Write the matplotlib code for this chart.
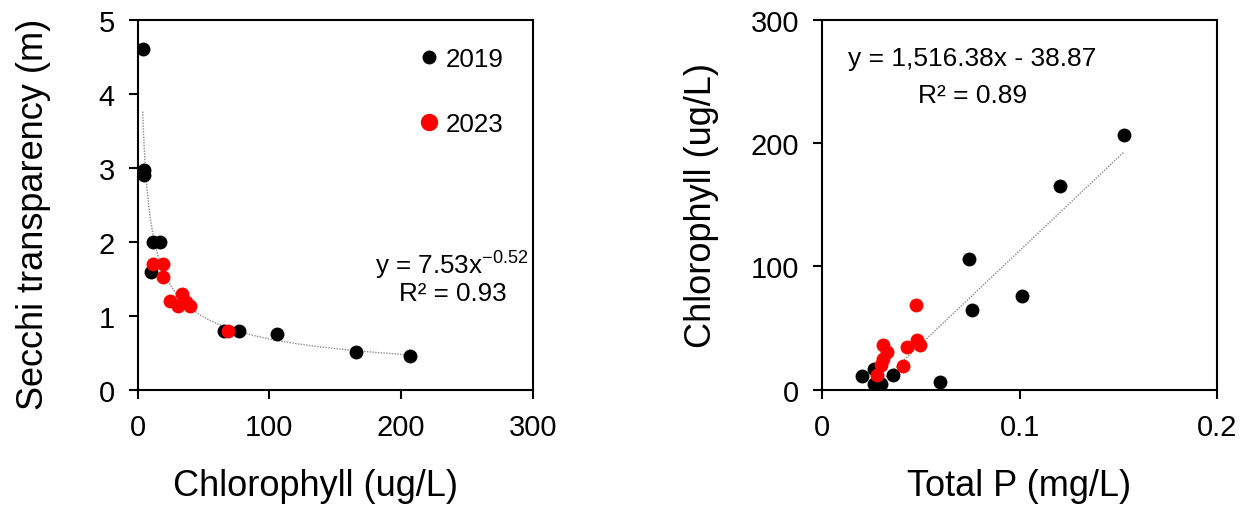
import numpy as np
import matplotlib
matplotlib.use("Agg")
import matplotlib.pyplot as plt
from matplotlib.lines import Line2D

plt.rcParams['font.family'] = ['Liberation Sans', 'DejaVu Sans']
plt.rcParams['mathtext.default'] = 'regular'
plt.rcParams['axes.unicode_minus'] = False

# left panel: chlorophyll (ug/L) vs secchi (m)
chl_2019 = [3.8, 4.5, 5.0, 11.6, 16.9, 10.0, 65.5, 77.0, 105.7, 165.6, 207.0]
secchi_2019 = [4.61, 2.97, 2.90, 2.00, 2.00, 1.59, 0.79, 0.79, 0.75, 0.51, 0.45]
chl_2023 = [11.6, 19.2, 19.2, 24.5, 34.0, 30.6, 36.5, 39.7, 68.5]
secchi_2023 = [1.70, 1.70, 1.52, 1.20, 1.30, 1.13, 1.19, 1.13, 0.79]

# right panel: total P (mg/L) vs chlorophyll (ug/L)
tp_2019 = [0.153, 0.1207, 0.0742, 0.0758, 0.101, 0.0596, 0.0202, 0.0263, 0.0263, 0.030, 0.0359]
chl2_2019 = [207, 165, 106, 65, 76, 6, 11.4, 17, 5, 5, 12]
tp_2023 = [0.0475, 0.0308, 0.0328, 0.0308, 0.0298, 0.0278, 0.0409, 0.0429, 0.048, 0.0495]
chl2_2023 = [69, 36, 31, 25, 20, 12, 19.5, 35, 40.7, 36.6]

# trendline coefficients (as printed on the chart)
pow_a, pow_b = 7.53, -0.52
lin_m, lin_c = 1516.38, -38.87

fig = plt.figure(figsize=(12.47, 5.1), dpi=100)
ax1 = fig.add_axes([0.1104, 0.2339, 0.317, 0.7249])
ax2 = fig.add_axes([0.6592, 0.2339, 0.3168, 0.7249])

ms = 100
trend_style = dict(color='#8c8c8c', lw=1.0, ls=(0, (1, 1)), zorder=1)

# --- left
x_all = np.array(chl_2019 + chl_2023)
xf = np.linspace(x_all.min(), x_all.max(), 300)
ax1.plot(xf, pow_a * xf ** pow_b, **trend_style)
ax1.scatter(chl_2019, secchi_2019, s=ms, color='black', zorder=3, linewidths=0)
ax1.scatter(chl_2023, secchi_2023, s=ms, color='#ff0000', zorder=4, linewidths=0)
ax1.set_xlim(0, 300)
ax1.set_ylim(0, 5)
ax1.set_xticks([0, 100, 200, 300])
ax1.set_yticks([0, 1, 2, 3, 4, 5])
ax1.set_xlabel('Chlorophyll (ug/L)', fontsize=26, labelpad=20, x=0.451)
ax1.set_ylabel('Secchi transparency (m)', fontsize=26, labelpad=34, y=0.478)
ax1.text(0.99, 0.337, 'y = 7.53x$^{-0.52}$', transform=ax1.transAxes,
         ha='right', va='center', fontsize=18.7)
ax1.text(0.797, 0.262, 'R² = 0.93', transform=ax1.transAxes,
         ha='center', va='center', fontsize=18.7)

handles = [Line2D([], [], ls='none', marker='o', color='black', markersize=9),
           Line2D([], [], ls='none', marker='o', color='#ff0000', markersize=11.5)]
ax1.legend(handles, ['2019', '2023'], loc='upper left', bbox_to_anchor=(0.718, 0.928),
           frameon=False, fontsize=18.7, handlelength=0.6, handletextpad=0.35,
           labelspacing=1.6, borderpad=0, borderaxespad=0)

# --- right
x2_all = np.array(tp_2019 + tp_2023)
xf2 = np.linspace(x2_all.min(), x2_all.max(), 50)
ax2.plot(xf2, lin_m * xf2 + lin_c, **trend_style)
ax2.scatter(tp_2019, chl2_2019, s=ms, color='black', zorder=3, linewidths=0)
ax2.scatter(tp_2023, chl2_2023, s=ms, color='#ff0000', zorder=4, linewidths=0)
ax2.set_xlim(0, 0.2)
ax2.set_ylim(0, 300)
ax2.set_xticks([0, 0.1, 0.2])
ax2.set_xticklabels(['0', '0.1', '0.2'])
ax2.set_yticks([0, 100, 200, 300])
ax2.set_xlabel('Total P (mg/L)', fontsize=26, labelpad=20)
ax2.set_ylabel('Chlorophyll (ug/L)', fontsize=26, labelpad=23)
ax2.text(0.381, 0.898, 'y = 1,516.38x - 38.87', transform=ax2.transAxes,
         ha='center', va='center', fontsize=19)
ax2.text(0.381, 0.797, 'R² = 0.89', transform=ax2.transAxes,
         ha='center', va='center', fontsize=19)

for ax in (ax1, ax2):
    for sp in ax.spines.values():
        sp.set_linewidth(1.5)
    ax.tick_params(direction='out', length=6.5, width=1.5, labelsize=21, pad=10)

fig.savefig('out.png', dpi=100)
